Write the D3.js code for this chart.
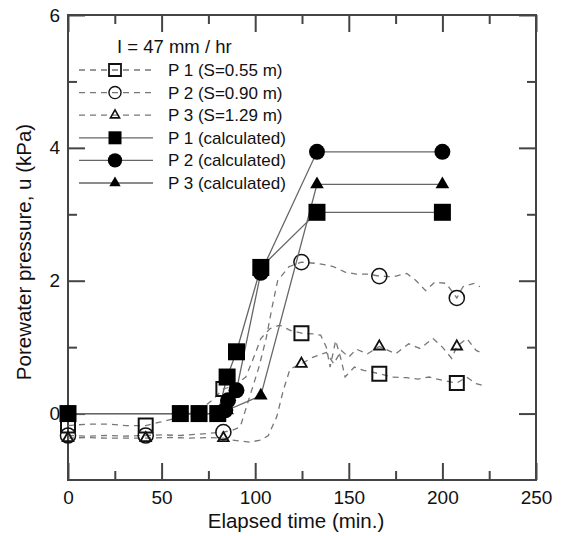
<!DOCTYPE html>
<html>
<head>
<meta charset="utf-8">
<script src="https://cdn.jsdelivr.net/npm/d3@7"></script>
<style>
  body { margin: 0; background: #fff; }
  svg { display: block; font-family: "Liberation Sans", Arial, sans-serif; }
</style>
</head>
<body>
<svg id="chart" width="563" height="536"></svg>
<script>
/******************* Data ***********************************/
// measured curves [time (min), u (kPa)]
var p1Measured = [[0,-0.18],[10,-0.16],[22,-0.16],[31,-0.18],[41.5,-0.18],[49,-0.13],[60,-0.05],[70,0.05],[77,0.2],[83,0.37],[89,0.42],[95,0.55],[100,0.9],[103,1.13],[108,1.28],[113,1.33],[119,1.25],[124.7,1.21],[131,1.2],[135,1.18],[138,1.0],[140,0.7],[143,1.1],[146,0.8],[148,0.55],[153,0.7],[158,0.65],[166.3,0.6],[173,0.55],[181,0.54],[187,0.52],[193,0.55],[200,0.5],[207.7,0.46],[213,0.55],[218,0.45],[222,0.42]];
var p2Measured = [[0,-0.33],[10,-0.34],[20,-0.33],[30,-0.34],[41.5,-0.33],[50,-0.32],[60,-0.33],[70,-0.31],[78,-0.29],[83,-0.28],[88,-0.25],[92,-0.2],[97,0.25],[102,0.7],[106,1.15],[109,1.6],[112,2.0],[118,2.21],[124.7,2.28],[133,2.26],[139,2.23],[142,2.21],[148,2.13],[154,2.1],[160,2.1],[166.3,2.07],[174,2.06],[181,2.11],[186,2.0],[191,1.85],[196,1.98],[202,1.96],[207.7,1.74],[211,1.91],[217,1.96],[220,1.91]];
var p3Measured = [[0,-0.37],[10,-0.36],[20,-0.37],[30,-0.37],[41.5,-0.37],[55,-0.36],[65,-0.37],[75,-0.36],[83,-0.37],[88,-0.4],[97,-0.43],[103,-0.4],[107,-0.33],[111.5,-0.05],[115,0.35],[118.6,0.67],[124.7,0.75],[131,0.85],[138,0.92],[142,0.75],[146,0.95],[150,0.85],[154,0.97],[160,0.9],[166.3,1.01],[175,0.9],[182,1.05],[188,0.98],[195,1.13],[200,1.0],[205,0.83],[207.7,1.01],[213,1.13],[218,0.95],[222,0.9]];

// times where the measured symbols are plotted
var markerTimes = [0, 41.5, 83, 124.7, 166.3, 207.7];
var p1Marks = [-0.18, -0.18, 0.37, 1.21, 0.6, 0.46];
var p2Marks = [-0.33, -0.33, -0.28, 2.28, 2.07, 1.74];
var p3Marks = [-0.37, -0.37, -0.37, 0.75, 1.01, 1.01];

// calculated curves [time (min), u (kPa)]
var p1Calc = [[0,0],[60,0],[70,0],[80,0],[85,0.55],[90,0.93],[103,2.2],[133,3.03],[200,3.03]];
var p2Calc = [[0,0],[60,0],[70,0],[80,0],[84,0.05],[85.5,0.2],[90,0.35],[103,2.12],[133,3.94],[200,3.94]];
var p3Calc = [[0,0],[60,0],[70,0],[80,0],[85,0.05],[103,0.27],[133,3.45],[200,3.45]];

var xTicks = [0, 50, 100, 150, 200, 250];
var xMinor = [25, 75, 125, 175, 225];
var yTicks = [0, 2, 4, 6];
var yMinor = [1, 3, 5];

var legendTitle = 'I = 47 mm / hr';
var legendLabels = ['P 1 (S=0.55 m)', 'P 2 (S=0.90 m)', 'P 3 (S=1.29 m)', 'P 1 (calculated)', 'P 2 (calculated)', 'P 3 (calculated)'];

/******************* Setup **********************************/
var svg = d3.select('#chart');
var box = { left: 68, right: 536, top: 15, bottom: 480 };
var axisColor = '#444';

var x = d3.scaleLinear().domain([0, 250]).range([box.left, box.right]);
var y = d3.scaleLinear().domain([-1, 6]).range([box.bottom, box.top]);

var line = d3.line()
  .x(function(d) { return x(d[0]); })
  .y(function(d) { return y(d[1]); });

function symbolPath(type, size) {
  var t = type === 'square' ? d3.symbolSquare : (type === 'circle' ? d3.symbolCircle : d3.symbolTriangle);
  return d3.symbol().type(t).size(size)();
}

/******************* Axes ***********************************/
function drawAxis(axis, tr) {
  var g = svg.append('g').attr('transform', tr).call(axis);
  g.select('.domain').remove();
  g.selectAll('line').attr('stroke', axisColor).attr('stroke-width', 2);
  g.selectAll('text').attr('fill', '#111').style('font-size', '19px');
  return g;
}

drawAxis(d3.axisBottom(x).tickValues(xTicks).tickSize(-17).tickPadding(22).tickFormat(d3.format('d')), 'translate(0,' + box.bottom + ')')
  .selectAll('text').attr('dy', '0.1em');
drawAxis(d3.axisBottom(x).tickValues(xMinor).tickSize(-9).tickFormat(''), 'translate(0,' + box.bottom + ')');
drawAxis(d3.axisTop(x).tickValues(xTicks).tickSize(-17).tickFormat(''), 'translate(0,' + box.top + ')');
drawAxis(d3.axisTop(x).tickValues(xMinor).tickSize(-9).tickFormat(''), 'translate(0,' + box.top + ')');

drawAxis(d3.axisLeft(y).tickValues(yTicks).tickSize(-17).tickPadding(8).tickFormat(d3.format('d')), 'translate(' + box.left + ',0)');
drawAxis(d3.axisLeft(y).tickValues(yMinor).tickSize(-9).tickFormat(''), 'translate(' + box.left + ',0)');
drawAxis(d3.axisRight(y).tickValues(yTicks).tickSize(-17).tickFormat(''), 'translate(' + box.right + ',0)');
drawAxis(d3.axisRight(y).tickValues(yMinor).tickSize(-9).tickFormat(''), 'translate(' + box.right + ',0)');

svg.append('rect')
  .attr('x', box.left).attr('y', box.top)
  .attr('width', box.right - box.left).attr('height', box.bottom - box.top)
  .attr('fill', 'none')
  .attr('stroke', axisColor)
  .attr('stroke-width', 2);

svg.append('text')
  .attr('x', (box.left + box.right) / 2 - 6)
  .attr('y', 528)
  .attr('text-anchor', 'middle')
  .style('font-size', '20.5px')
  .attr('fill', '#111')
  .text('Elapsed time (min.)');

svg.append('text')
  .attr('transform', 'translate(31,252) rotate(-90)')
  .attr('text-anchor', 'middle')
  .style('font-size', '20.5px')
  .attr('fill', '#111')
  .text('Porewater pressure, u (kPa)');

/******************* Series *********************************/
var measured = [
  { pts: p1Measured, marks: p1Marks, shape: 'square', size: 196, sw: 2 },
  { pts: p2Measured, marks: p2Marks, shape: 'circle', size: 180, sw: 1.5 },
  { pts: p3Measured, marks: p3Marks, shape: 'triangle', size: 48, sw: 1.8 }
];

measured.forEach(function(s) {
  svg.append('path')
    .datum(s.pts)
    .attr('d', line)
    .attr('fill', 'none')
    .attr('stroke', '#777')
    .attr('stroke-width', 1.3)
    .attr('stroke-dasharray', '6,5');
});

measured.forEach(function(s) {
  svg.append('g').selectAll('path')
    .data(markerTimes.map(function(t, i) { return [t, s.marks[i]]; }))
    .enter().append('path')
    .attr('transform', function(d) { return 'translate(' + x(d[0]) + ',' + y(d[1]) + ')'; })
    .attr('d', symbolPath(s.shape, s.size))
    .attr('fill', 'none')
    .attr('stroke', '#111')
    .attr('stroke-width', s.sw);
});

var calculated = [
  { pts: p3Calc, shape: 'triangle', size: 80 },
  { pts: p2Calc, shape: 'circle', size: 200 },
  { pts: p1Calc, shape: 'square', size: 289 }
];

calculated.forEach(function(s) {
  svg.append('path')
    .datum(s.pts)
    .attr('d', line)
    .attr('fill', 'none')
    .attr('stroke', '#666')
    .attr('stroke-width', 1.3);
});

calculated.forEach(function(s) {
  svg.append('g').selectAll('path')
    .data(s.pts)
    .enter().append('path')
    .attr('transform', function(d) { return 'translate(' + x(d[0]) + ',' + y(d[1]) + ')'; })
    .attr('d', symbolPath(s.shape, s.size))
    .attr('fill', '#000');
});

/******************* Legend *********************************/
var legend = svg.append('g');

legend.append('text')
  .attr('x', 117).attr('y', 53)
  .style('font-size', '18.5px')
  .attr('fill', '#111')
  .text(legendTitle);

var legendSymbols = [
  { shape: 'square', size: 144, fill: 'none', sw: 1.8, dash: '6,5' },
  { shape: 'circle', size: 115, fill: 'none', sw: 1.4, dash: '6,5' },
  { shape: 'triangle', size: 36, fill: 'none', sw: 1.6, dash: '6,5' },
  { shape: 'square', size: 169, fill: '#000', sw: 0, dash: null },
  { shape: 'circle', size: 160, fill: '#000', sw: 0, dash: null },
  { shape: 'triangle', size: 56, fill: '#000', sw: 0, dash: null }
];

legendLabels.forEach(function(label, i) {
  var cy = 70 + i * 22.6;
  var sym = legendSymbols[i];

  legend.append('line')
    .attr('x1', 79).attr('x2', 153)
    .attr('y1', cy).attr('y2', cy)
    .attr('stroke', sym.dash ? '#777' : '#666')
    .attr('stroke-width', 1.3)
    .attr('stroke-dasharray', sym.dash);

  legend.append('path')
    .attr('transform', 'translate(115,' + cy + ')')
    .attr('d', symbolPath(sym.shape, sym.size))
    .attr('fill', sym.fill)
    .attr('stroke', sym.fill === 'none' ? '#111' : null)
    .attr('stroke-width', sym.sw);

  legend.append('text')
    .attr('x', 168).attr('y', cy + 6)
    .style('font-size', '17px')
    .attr('fill', '#111')
    .text(label);
});
</script>
</body>
</html>
